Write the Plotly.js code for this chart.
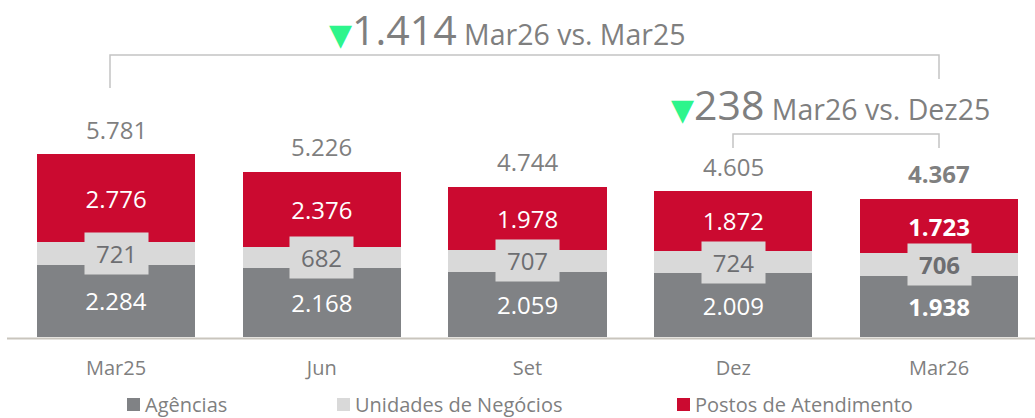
<!DOCTYPE html>
<html>
<head>
<meta charset="utf-8">
<script src="https://cdn.plot.ly/plotly-3.0.1.min.js"></script>
<style>html,body{margin:0;padding:0;background:#fff;}#chart{width:1035px;height:418px;}</style>
</head>
<body>
<div id="chart"></div>
<script>
// ---- data ----
const categories = ["Mar25", "Jun", "Set", "Dez", "Mar26"];
const seriesNames = ["Agências", "Unidades de Negócios", "Postos de Atendimento"];
const agencias = [2284, 2168, 2059, 2009, 1938];
const unidades = [721, 682, 707, 724, 706];
const postos = [2776, 2376, 1978, 1872, 1723];
const comparisonLabels = ["Mar26 vs. Mar25", "Mar26 vs. Dez25"];

// ---- styling ----
const FONT = "'Open Sans', 'Liberation Sans', sans-serif";
const C_DARK = "#808285", C_LIGHT = "#d9d9d9", C_RED = "#cb0a30";
const C_TEXT = "#7f7f7f", C_MID = "#6d6e71", C_GREEN = "#2df58c", C_LINE = "#c4c4c4";
const colors = [C_DARK, C_LIGHT, C_RED];

const ML = 13, PW = 1035 - ML, PH = 337;
const X = px => (px - ML) / PW;
const Y = py => (PH - py) / PH;

const fmt = n => String(n).replace(/\B(?=(\d{3})+(?!\d))/g, ".");
const last = categories.length - 1;
const bold = (s, i) => i === last ? "<b>" + s + "</b>" : s;

const totals = categories.map((_, i) => agencias[i] + unidades[i] + postos[i]);

const traces = [agencias, unidades, postos].map((vals, k) => ({
  type: "bar",
  name: seriesNames[k],
  x: categories,
  y: vals,
  marker: {color: colors[k], line: {width: 0}},
  text: k === 1 ? null : vals.map((v, i) => bold(fmt(v), i)),
  textposition: k === 1 ? "none" : "inside",
  insidetextanchor: "middle",
  textangle: 0,
  textfont: {family: FONT, size: 24, color: "#ffffff"},
  hoverinfo: "skip",
  showlegend: false
}));

const annotations = [];
categories.forEach((c, i) => {
  annotations.push({
    x: c, y: agencias[i] + unidades[i] / 2, xref: "x", yref: "y",
    text: bold(fmt(unidades[i]), i), showarrow: false,
    font: {family: FONT, size: 24, color: C_MID},
    bgcolor: C_LIGHT, width: 63, height: 41, borderpad: 0,
    xanchor: "center", yanchor: "middle"
  });
  annotations.push({
    x: c, y: totals[i], xref: "x", yref: "y", yshift: 25,
    text: bold(fmt(totals[i]), i), showarrow: false,
    font: {family: FONT, size: 24, color: C_TEXT},
    xanchor: "center", yanchor: "middle"
  });
});

const d1 = totals[0] - totals[last];
const d2 = totals[last - 1] - totals[last];
function headline(delta, label) {
  return "<span style='color:" + C_GREEN + ";font-size:30px;font-family:DejaVu Sans'>▼</span>" +
    "<span style='font-size:41px'>" + fmt(delta) + "</span> " + label;
}
annotations.push({
  xref: "paper", yref: "paper", x: X(327), y: Y(29), xanchor: "left", yanchor: "middle",
  text: headline(d1, comparisonLabels[0]), showarrow: false,
  font: {family: FONT, size: 28.5, color: C_TEXT}
});
annotations.push({
  xref: "paper", yref: "paper", x: X(669), y: Y(104), xanchor: "left", yanchor: "middle",
  text: headline(d2, comparisonLabels[1]), showarrow: false,
  font: {family: FONT, size: 28.5, color: C_TEXT}
});

const legendPos = [127, 337, 677];
seriesNames.forEach((n, k) => {
  annotations.push({
    xref: "paper", yref: "paper", x: X(legendPos[k] + 16), y: Y(404),
    xanchor: "left", yanchor: "middle", text: n, showarrow: false,
    font: {family: FONT, size: 20, color: C_TEXT}
  });
});

const shapes = [
  {type: "line", xref: "paper", yref: "paper", x0: X(7), x1: X(1035), y0: Y(338.5), y1: Y(338.5),
   line: {color: "#c9c5bd", width: 2}},
  {type: "path", xref: "paper", yref: "paper",
   path: `M ${X(110)},${Y(88)} L ${X(110)},${Y(55)} L ${X(939)},${Y(55)} L ${X(939)},${Y(79)}`,
   line: {color: C_LINE, width: 1.5}},
  {type: "path", xref: "paper", yref: "paper",
   path: `M ${X(733)},${Y(148)} L ${X(733)},${Y(134)} L ${X(939)},${Y(134)} L ${X(939)},${Y(148)}`,
   line: {color: C_LINE, width: 1.5}}
];
legendPos.forEach((p, k) => {
  shapes.push({type: "rect", xref: "paper", yref: "paper",
    x0: X(p), x1: X(p + 13), y0: Y(411), y1: Y(398),
    fillcolor: colors[k], line: {width: 0}});
});

const layout = {
  width: 1035, height: 418,
  margin: {l: ML, r: 0, t: 0, b: 418 - PH, pad: 0},
  paper_bgcolor: "#ffffff", plot_bgcolor: "#ffffff",
  barmode: "stack", bargap: 0.232,
  showlegend: false,
  font: {family: FONT, color: C_TEXT},
  xaxis: {type: "category", range: [-0.5006, 4.4666], showline: false, showgrid: false,
          zeroline: false, ticks: "", ticklabelstandoff: 17,
          tickfont: {family: FONT, size: 20, color: C_TEXT}, fixedrange: true},
  yaxis: {range: [0, 10654], visible: false, fixedrange: true},
  annotations: annotations,
  shapes: shapes
};

Plotly.newPlot("chart", traces, layout, {displayModeBar: false, staticPlot: true});
</script>
</body>
</html>
